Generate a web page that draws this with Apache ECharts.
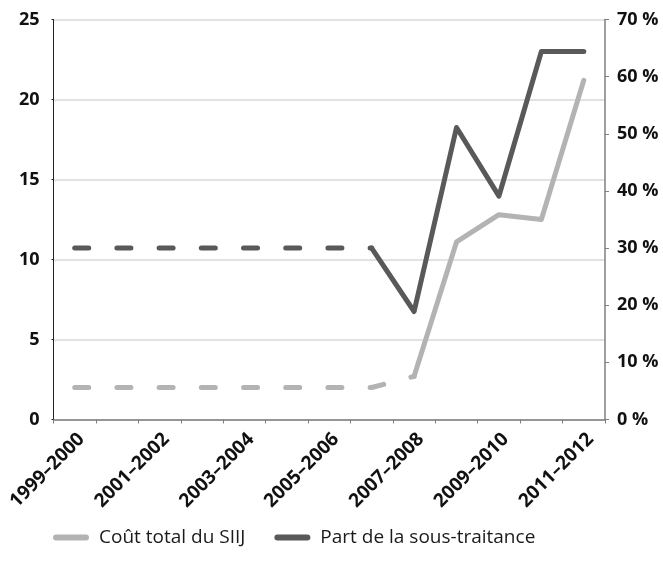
<!DOCTYPE html>
<html>
<head>
<meta charset="utf-8">
<script src="https://cdn.jsdelivr.net/npm/echarts@6/dist/echarts.min.js"></script>
<style>
  html, body { margin: 0; padding: 0; background: #ffffff; }
  #chart { width: 663px; height: 562px; }
</style>
</head>
<body>
<div id="chart"></div>
<script>
// School years on the category axis
const years = [
  '1999–2000', '2000–2001', '2001–2002', '2002–2003', '2003–2004',
  '2004–2005', '2005–2006', '2006–2007', '2007–2008', '2008–2009',
  '2009–2010', '2010–2011', '2011–2012'
];

// Total cost of the SIIJ (left axis) — estimated years drawn dashed
const costEstimated = [2, 2, 2, 2, 2, 2, 2, 2, 2.7, null, null, null, null];
const costActual    = [null, null, null, null, null, null, null, null, 2.7, 11.1, 12.8, 12.5, 21.2];

// Share of subcontracting in % (right axis) — estimated years drawn dashed
const shareEstimated = [30, 30, 30, 30, 30, 30, 30, 30, null, null, null, null, null];
const shareActual    = [null, null, null, null, null, null, null, 30, 18.9, 51.1, 39.1, 64.4, 64.4];

const leftTicks = { min: 0, max: 25, interval: 5 };
const rightTicks = { min: 0, max: 70, interval: 10 };

const LIGHT = '#b3b3b3';
const DARK = '#595959';
const FONT = '"Open Sans", "Noto Sans", sans-serif';

const chart = echarts.init(document.getElementById('chart'), null, { renderer: 'canvas' });

const lineStyle = (color, dashed) => ({
  color: color,
  width: 5,
  cap: 'round',
  join: 'round',
  type: dashed ? [14, 28.2] : 'solid'
});

chart.setOption({
  animation: false,
  textStyle: { fontFamily: FONT },
  grid: { left: 53.5, right: 58, top: 19.5, bottom: 142.5, containLabel: false },
  legend: {
    data: ['Coût total du SIIJ', 'Part de la sous-traitance'],
    left: 53,
    top: 528,
    padding: 0,
    itemWidth: 36,
    itemHeight: 6,
    itemGap: 29,
    icon: 'path://M3,0 H33 A3,3 0 0 1 33,6 H3 A3,3 0 0 1 3,0 Z',
    textStyle: { fontSize: 19, color: '#1a1a1a', fontFamily: FONT, padding: [0, 0, 0, 5] }
  },
  xAxis: {
    type: 'category',
    data: years,
    boundaryGap: true,
    axisLine: { lineStyle: { color: '#7f7f7f', width: 1.5 } },
    axisTick: { show: true, interval: 0, length: 4, lineStyle: { color: '#7f7f7f' } },
    axisLabel: {
      interval: 1,
      rotate: 45,
      margin: 10,
      verticalAlign: 'top',
      fontSize: 19,
      fontWeight: 'bold',
      color: '#111111',
      fontFamily: FONT
    },
    splitLine: { show: false }
  },
  yAxis: [
    {
      type: 'value',
      min: leftTicks.min, max: leftTicks.max, interval: leftTicks.interval,
      position: 'left',
      axisLine: { show: true, lineStyle: { color: '#222222', width: 1 } },
      axisTick: { show: true, length: 2, lineStyle: { color: '#222222' } },
      axisLabel: { margin: 14, fontSize: 18, fontWeight: 'bold', color: '#111111', fontFamily: FONT },
      splitLine: { show: true, lineStyle: { color: '#d9d9d9', width: 1.5 } }
    },
    {
      type: 'value',
      min: rightTicks.min, max: rightTicks.max, interval: rightTicks.interval,
      position: 'right',
      axisLine: { show: true, lineStyle: { color: '#7f7f7f', width: 1.5 } },
      axisTick: { show: true, length: 4, lineStyle: { color: '#7f7f7f' } },
      axisLabel: { margin: 12, fontSize: 18, fontWeight: 'bold', color: '#111111', fontFamily: FONT, formatter: '{value} %' },
      splitLine: { show: false }
    }
  ],
  series: [
    {
      name: 'Coût total du SIIJ (estimation)',
      type: 'line', yAxisIndex: 0, data: costEstimated,
      symbol: 'none', connectNulls: false,
      lineStyle: lineStyle(LIGHT, true), itemStyle: { color: LIGHT }, z: 2
    },
    {
      name: 'Coût total du SIIJ',
      type: 'line', yAxisIndex: 0, data: costActual,
      symbol: 'none', connectNulls: false,
      lineStyle: lineStyle(LIGHT, false), itemStyle: { color: LIGHT }, z: 2
    },
    {
      name: 'Part de la sous-traitance (estimation)',
      type: 'line', yAxisIndex: 1, data: shareEstimated,
      symbol: 'none', connectNulls: false,
      lineStyle: lineStyle(DARK, true), itemStyle: { color: DARK }, z: 3
    },
    {
      name: 'Part de la sous-traitance',
      type: 'line', yAxisIndex: 1, data: shareActual,
      symbol: 'none', connectNulls: false,
      lineStyle: lineStyle(DARK, false), itemStyle: { color: DARK }, z: 3
    }
  ]
});
</script>
</body>
</html>
